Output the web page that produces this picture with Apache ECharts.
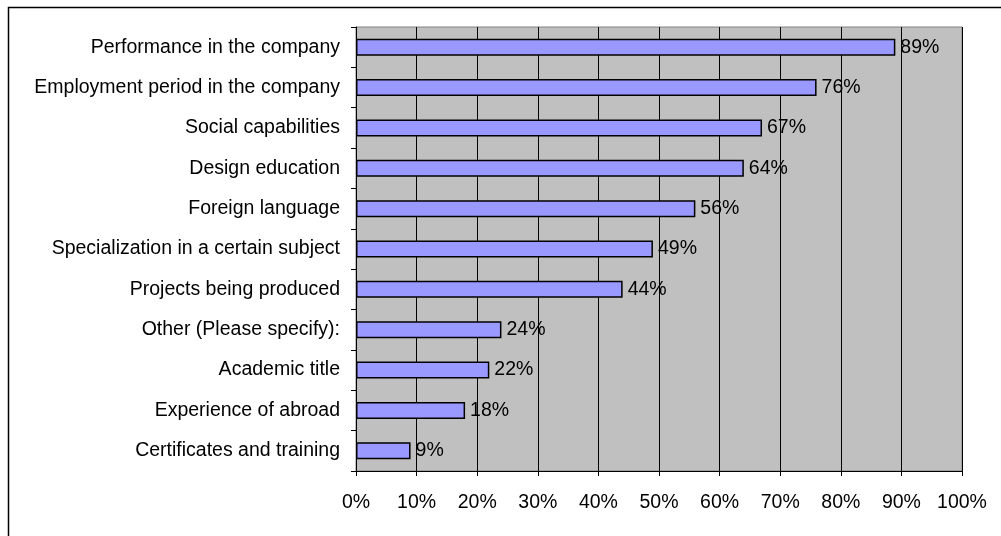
<!DOCTYPE html>
<html>
<head>
<meta charset="utf-8">
<script src="https://cdn.jsdelivr.net/npm/echarts@6/dist/echarts.min.js"></script>
<style>
  html, body { margin: 0; padding: 0; background: #ffffff; }
  #chart { width: 1001px; height: 536px; }
</style>
</head>
<body>
<div id="chart"></div>
<script>
// Factors, listed bottom to top as drawn on the category axis
const categories = [
  'Certificates and training',
  'Experience of abroad',
  'Academic title',
  'Other (Please specify):',
  'Projects being produced',
  'Specialization in a certain subject',
  'Foreign language',
  'Design education',
  'Social capabilities',
  'Employment period in the company',
  'Performance in the company'
];
// Share of respondents, percent
const values = [9, 18, 22, 24, 44, 49, 56, 64, 67, 76, 89];
const xTicks = [0, 10, 20, 30, 40, 50, 60, 70, 80, 90, 100];

const FONT = '"Liberation Sans", Arial, sans-serif';
const FS = 19.5;

const chart = echarts.init(document.getElementById('chart'), null, { renderer: 'canvas' });
chart.setOption({
  animation: false,
  backgroundColor: '#ffffff',
  graphic: [{
    type: 'rect',
    shape: { x: 8.5, y: 7.5, width: 1100, height: 600 },
    style: { fill: 'none', stroke: '#000000', lineWidth: 1.5 },
    silent: true,
    z: -10
  }],
  grid: {
    left: 356, top: 27, width: 606, height: 444,
    show: true,
    backgroundColor: '#c0c0c0',
    borderColor: '#808080',
    borderWidth: 1
  },
  xAxis: {
    type: 'value',
    min: 0, max: 100, interval: 10,
    axisLine: { show: true, lineStyle: { color: '#000000', width: 1 } },
    axisTick: { show: true, length: 5, lineStyle: { color: '#000000' } },
    axisLabel: {
      margin: 22,
      color: '#000000',
      fontFamily: FONT,
      fontSize: FS,
      formatter: v => (xTicks.includes(v) ? v + '%' : '')
    },
    splitLine: { show: true, lineStyle: { color: '#000000', width: 1 } }
  },
  yAxis: {
    type: 'category',
    data: categories,
    axisLine: { show: true, lineStyle: { color: '#000000', width: 1 } },
    axisTick: { show: true, length: 5, alignWithLabel: false, lineStyle: { color: '#000000' } },
    axisLabel: {
      margin: 16,
      color: '#000000',
      fontFamily: FONT,
      fontSize: FS
    },
    splitLine: { show: false }
  },
  series: [{
    type: 'bar',
    data: values,
    barWidth: 17,
    itemStyle: { color: '#9999ff', borderColor: '#000000', borderWidth: 1.5 },
    label: {
      show: true,
      position: 'right',
      distance: 5,
      color: '#000000',
      fontFamily: FONT,
      fontSize: FS,
      formatter: p => p.value + '%'
    }
  }]
});
</script>
</body>
</html>
